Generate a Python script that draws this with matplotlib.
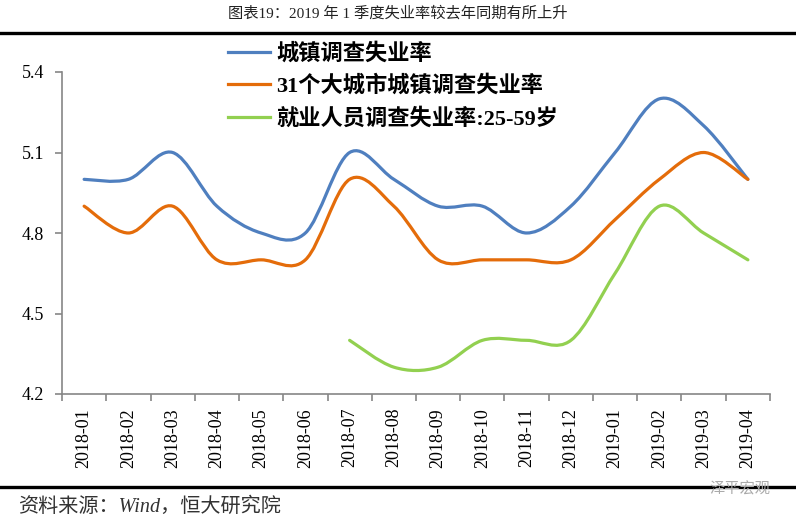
import matplotlib
matplotlib.use("Agg")
import matplotlib.pyplot as plt
import numpy as np
from matplotlib.path import Path
from matplotlib.patches import PathPatch
from matplotlib.lines import Line2D

plt.rcParams['font.family'] = ['Liberation Serif', 'Noto Sans CJK SC']

months = ['2018-01', '2018-02', '2018-03', '2018-04', '2018-05', '2018-06',
          '2018-07', '2018-08', '2018-09', '2018-10', '2018-11', '2018-12',
          '2019-01', '2019-02', '2019-03', '2019-04']
urban = [5.0, 5.0, 5.1, 4.9, 4.8, 4.8, 5.1, 5.0, 4.9, 4.9, 4.8, 4.9, 5.1, 5.3, 5.2, 5.0]
city31 = [4.9, 4.8, 4.9, 4.7, 4.7, 4.7, 5.0, 4.9, 4.7, 4.7, 4.7, 4.7, 4.85, 5.0, 5.1, 5.0]
age2559 = [None] * 6 + [4.4, 4.3, 4.3, 4.4, 4.4, 4.4, 4.65, 4.9, 4.8, 4.7]

names = ['城镇调查失业率', '31个大城市城镇调查失业率', '就业人员调查失业率:25-59岁']
colors = ['#4F7FBF', '#E46C0A', '#92D050']


def smooth_path(xs, ys):
    # Excel-like smoothed line: cubic bezier through every point
    pts = np.column_stack([xs, ys])
    verts = [pts[0]]
    codes = [Path.MOVETO]
    n = len(pts)
    for i in range(n - 1):
        p0 = pts[i - 1] if i > 0 else pts[i]
        p1 = pts[i]
        p2 = pts[i + 1]
        p3 = pts[i + 2] if i + 2 < n else pts[i + 1]
        c1 = p1 + (p2 - p0) / 6.0
        c2 = p2 - (p3 - p1) / 6.0
        verts += [c1, c2, p2]
        codes += [Path.CURVE4] * 3
    return Path(verts, codes)


fig = plt.figure(figsize=(7.96, 5.22), dpi=100)
ax = fig.add_axes([62 / 796, 1 - 394 / 522, 708 / 796, 322 / 522])

handles = []
for vals, name, c in zip([urban, city31, age2559], names, colors):
    xs = [i for i, v in enumerate(vals) if v is not None]
    ys = [v for v in vals if v is not None]
    ax.add_patch(PathPatch(smooth_path(xs, ys), facecolor='none', edgecolor=c,
                           lw=2.3, capstyle='round', joinstyle='round'))
    handles.append(Line2D([], [], color=c, lw=2.3, label=name))

ax.set_xlim(-0.5, len(months) - 0.5)
ax.set_ylim(4.2, 5.4)
ax.set_yticks([4.2, 4.5, 4.8, 5.1, 5.4])
ax.set_yticklabels(['4.2', '4.5', '4.8', '5.1', '5.4'], fontsize=13)
ax.set_xticks(range(len(months)))
ax.set_xticklabels(months, rotation=90, fontsize=13)
ax.set_xticks(np.arange(-0.5, len(months), 1.0), minor=True)
ax.tick_params(axis='x', which='major', length=0, pad=10)
ax.tick_params(axis='x', which='minor', length=5, width=1.2, color='#868686')
ax.tick_params(axis='y', length=5, width=1.2, color='#868686', pad=8)

for s in ['top', 'right']:
    ax.spines[s].set_visible(False)
for s in ['left', 'bottom']:
    ax.spines[s].set_color('#868686')
    ax.spines[s].set_linewidth(1.2)

leg = ax.legend(handles=handles, loc='upper left', bbox_to_anchor=(0.234, 1.09),
                frameon=False, borderpad=0, borderaxespad=0, handlelength=1.9,
                handletextpad=0.3, labelspacing=0.48,
                prop={'size': 16, 'weight': 'bold'})

fig.text(0.5, 1 - 13 / 522, '图表19：2019 年 1 季度失业率较去年同期有所上升',
         ha='center', va='center', fontsize=11, color='#222222')
fig.add_artist(Line2D([0, 1], [1 - 33 / 522] * 2, color='black', lw=2.4))
fig.add_artist(Line2D([0, 1], [1 - 487 / 522] * 2, color='black', lw=2.4))
fig.text(18 / 796, 1 - 507 / 522, '资料来源：Wind，恒大研究院', ha='left', va='center',
         fontsize=14.5, style='italic', color='#333333')
fig.text(770 / 796, 1 - 489 / 522, '泽平宏观', ha='right', va='center',
         fontsize=11, color='#aaaaaa')

fig.savefig('out.png', dpi=100)
